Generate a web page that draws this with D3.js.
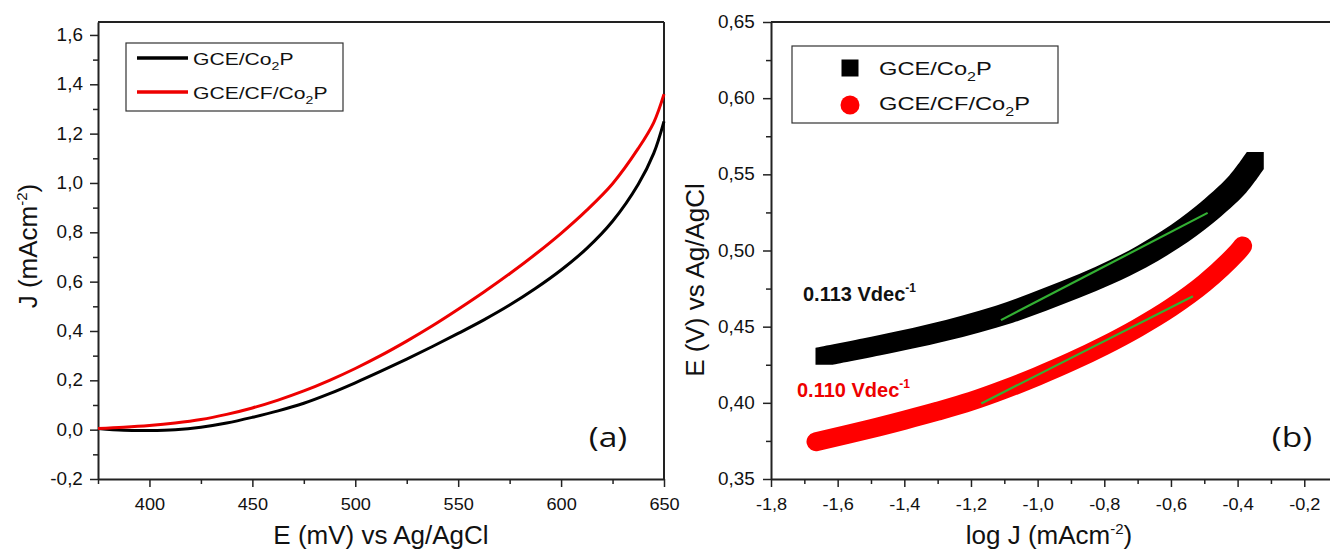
<!DOCTYPE html>
<html>
<head>
<meta charset="utf-8">
<script src="https://cdn.jsdelivr.net/npm/d3@7"></script>
<style>
  body { margin: 0; background: #fff; }
  svg { display: block; }
  text { font-family: "Liberation Sans", Arial, sans-serif; fill: #111; }
</style>
</head>
<body>
<script>
// ---- data ----
// (a) polarisation curves, J (mA cm-2) vs E (mV)
const potentialMv = [375, 387.5, 400, 412.5, 425, 437.5, 450, 462.5, 475, 487.5, 500, 512.5,
                     525, 537.5, 550, 562.5, 575, 587.5, 600, 612.5, 625, 637.5, 645, 650];
const jCo2P   = [0.005, -0.002, -0.003, 0.0, 0.01, 0.027, 0.05, 0.076, 0.107, 0.146, 0.19, 0.237,
                 0.286, 0.337, 0.39, 0.445, 0.505, 0.572, 0.647, 0.735, 0.845, 0.995, 1.12, 1.25];
const jCfCo2P = [0.005, 0.01, 0.017, 0.027, 0.041, 0.062, 0.088, 0.12, 0.157, 0.2, 0.248, 0.301,
                 0.359, 0.421, 0.488, 0.558, 0.632, 0.711, 0.796, 0.89, 0.997, 1.14, 1.245, 1.36];

// (b) Tafel plots, E (V) vs log J
const tafelLogJCo2P = [-1.641, -1.5, -1.4, -1.3, -1.2, -1.1, -1.0, -0.9, -0.8, -0.7, -0.6, -0.5, -0.4, -0.347];
const tafelECo2P    = [0.4305, 0.4366, 0.4412, 0.4462, 0.4518, 0.4582, 0.466, 0.4745, 0.4838, 0.4945,
                       0.5075, 0.5235, 0.5435, 0.559];
const tafelLogJCf   = [-1.665, -1.5, -1.4, -1.3, -1.2, -1.1, -1.0, -0.9, -0.8, -0.7, -0.6, -0.5, -0.4, -0.385];
const tafelECf      = [0.3745, 0.383, 0.3886, 0.3945, 0.401, 0.4088, 0.4175, 0.427, 0.4375, 0.4492,
                       0.4625, 0.4785, 0.499, 0.503];

// linear fits (green)
const fitLogJCo2P = [-1.11, -0.49];
const fitECo2P    = [0.4543, 0.5247];
const fitLogJCf   = [-1.169, -0.534];
const fitECf      = [0.3996, 0.470];

const seriesNames = ["GCE/CF/Co", "GCE/Co"];
const slopeLabels = ["0.113 Vdec", "0.110 Vdec"];
const seriesColors = ["#000000", "#ee0000"];

// ticks
const ticksE    = [400, 450, 500, 550, 600, 650];
const minorE    = [375, 425, 475, 525, 575, 625];
const ticksJ    = [-0.2, 0, 0.2, 0.4, 0.6, 0.8, 1.0, 1.2, 1.4, 1.6];
const minorJ    = [-0.1, 0.1, 0.3, 0.5, 0.7, 0.9, 1.1, 1.3, 1.5];
const ticksLogJ = [-1.8, -1.6, -1.4, -1.2, -1.0, -0.8, -0.6, -0.4, -0.2];
const minorLogJ = [-1.7, -1.5, -1.3, -1.1, -0.9, -0.7, -0.5, -0.3, -0.1];
const ticksV    = [0.35, 0.40, 0.45, 0.50, 0.55, 0.60, 0.65];
const minorV    = [0.375, 0.425, 0.475, 0.525, 0.575, 0.625];

// ---- layout ----
const W = 1330, H = 551;
const svg = d3.select("body").append("svg").attr("width", W).attr("height", H);
svg.append("rect").attr("width", W).attr("height", H).attr("fill", "#fff");

const comma = s => s.replace(".", ",").replace("\u2212", "-");
const fmt1 = d => comma(d3.format(".1f")(d));
const fmt2 = d => comma(d3.format(".2f")(d));

// text helper with horizontal stretch
function label(parent, x, y, opts) {
  const g = parent.append("g").attr("transform", `translate(${x},${y}) ${opts.rot ? "rotate(" + opts.rot + ")" : ""} scale(${opts.sx || 1},1)`);
  const t = g.append("text")
    .attr("text-anchor", opts.anchor || "start")
    .style("font-size", opts.size + "px");
  if (opts.weight) t.style("font-weight", opts.weight);
  if (opts.family) t.style("font-family", opts.family);
  if (opts.fill) t.style("fill", opts.fill);
  return t;
}

function drawAxes(x, y, xt, xm, yt, ym, xf, yf, yPad) {
  const [x0, x1] = x.range();
  const [y0, y1] = y.range();
  const gx = svg.append("g").attr("transform", `translate(0,${y0})`)
    .call(d3.axisBottom(x).tickValues(xt).tickSize(8).tickSizeOuter(0).tickPadding(11).tickFormat(xf));
  svg.append("g").attr("transform", `translate(0,${y0})`)
    .call(d3.axisBottom(x).tickValues(xm).tickSize(5).tickFormat(""))
    .select(".domain").remove();
  const gy = svg.append("g").attr("transform", `translate(${x0},0)`)
    .call(d3.axisLeft(y).tickValues(yt).tickSize(8).tickSizeOuter(0).tickPadding(yPad).tickFormat(yf));
  svg.append("g").attr("transform", `translate(${x0},0)`)
    .call(d3.axisLeft(y).tickValues(ym).tickSize(5).tickFormat(""))
    .select(".domain").remove();
  svg.selectAll(".domain").attr("stroke", "#222").attr("stroke-width", 2);
  svg.selectAll(".tick line").attr("stroke", "#222").attr("stroke-width", 1.5);
  gx.selectAll("text").style("font-size", "16.5px").attr("transform", "scale(1.1,1)")
    .style("font-family", "'Liberation Sans', Arial, sans-serif").attr("fill", "#111");
  gy.selectAll("text").style("font-size", "17.5px").attr("transform", "scale(1.08,1)")
    .style("font-family", "'Liberation Sans', Arial, sans-serif").attr("fill", "#111");
  // top border
  svg.append("line").attr("x1", x0).attr("x2", x1).attr("y1", y1).attr("y2", y1)
    .attr("stroke", "#222").attr("stroke-width", 2);
}

// ================= panel (a) =================
const xA = d3.scaleLinear().domain([375, 650]).range([98, 664]);
const yA = d3.scaleLinear().domain([-0.2, 1.6525]).range([479, 22]);
drawAxes(xA, yA, ticksE, minorE, ticksJ, minorJ, d3.format("d"), fmt1, 6);
svg.append("line").attr("x1", 664).attr("x2", 664).attr("y1", 22).attr("y2", 479)
  .attr("stroke", "#222").attr("stroke-width", 2);

const lineA = d3.line().x(d => xA(d[0])).y(d => yA(d[1])).curve(d3.curveCatmullRom.alpha(0.5));
svg.append("path").datum(potentialMv.map((e, i) => [e, jCo2P[i]]))
  .attr("d", lineA).attr("fill", "none").attr("stroke", seriesColors[0]).attr("stroke-width", 3);
svg.append("path").datum(potentialMv.map((e, i) => [e, jCfCo2P[i]]))
  .attr("d", lineA).attr("fill", "none").attr("stroke", seriesColors[1]).attr("stroke-width", 3);

// legend (a)
svg.append("rect").attr("x", 126).attr("y", 43).attr("width", 217).attr("height", 68)
  .attr("fill", "#fff").attr("stroke", "#333").attr("stroke-width", 1.2);
[[seriesNames[1], 58, seriesColors[0]], [seriesNames[0], 92, seriesColors[1]]].forEach(([name, yy, c]) => {
  svg.append("line").attr("x1", 137).attr("x2", 188).attr("y1", yy).attr("y2", yy)
    .attr("stroke", c).attr("stroke-width", 3.5);
  const t = label(svg, 193, yy + 6.5, { size: 16.5, sx: 1.28 });
  t.append("tspan").text(name);
  t.append("tspan").text("2").attr("dy", 5).style("font-size", "11px");
  t.append("tspan").text("P").attr("dy", -5);
});

// axis titles (a)
{
  const t = label(svg, 381, 544, { size: 26, anchor: "middle" });
  t.text("E (mV) vs Ag/AgCl");
  const ty = label(svg, 37, 246, { size: 26, anchor: "middle", rot: -90 });
  ty.append("tspan").text("J (mAcm");
  ty.append("tspan").text("-2").attr("dy", -10).style("font-size", "15px");
  ty.append("tspan").text(")").attr("dy", 10);
  label(svg, 608, 447, { size: 28, anchor: "middle", sx: 1.2, family: "'Open Sans', Lato, sans-serif" }).text("(a)");
}

// ================= panel (b) =================
const xB = d3.scaleLinear().domain([-1.8, -0.1]).range([771, 1337.6]);
const yB = d3.scaleLinear().domain([0.35, 0.65]).range([479, 22]);
drawAxes(xB, yB, ticksLogJ, minorLogJ, ticksV, minorV, fmt1, fmt2, 7);

// black square markers: band = curve swept by a square of half-size h
{
  const h = 8.5;
  const pts = tafelLogJCo2P.map((v, i) => [xB(v), yB(tafelECo2P[i])]);
  const edge = d3.line().curve(d3.curveCatmullRom.alpha(0.5));
  const top = edge(pts.map(([x, y]) => [x - h, y - h]));
  const bot = edge(pts.map(([x, y]) => [x + h, y + h]).reverse());
  const [xs, ys] = pts[0], [xe, ye] = pts[pts.length - 1];
  const d = `M${xs - h},${ys + h}L${top.slice(1)}L${xe + h},${ye - h}L${bot.slice(1)}Z`;
  svg.append("path").attr("d", d).attr("fill", seriesColors[0]);
}
// red circle markers: round-capped thick stroke
const lineB = d3.line().x(d => xB(d[0])).y(d => yB(d[1])).curve(d3.curveCatmullRom.alpha(0.5));
svg.append("path").datum(tafelLogJCf.map((v, i) => [v, tafelECf[i]]))
  .attr("d", lineB).attr("fill", "none").attr("stroke", "#f00")
  .attr("stroke-width", 19).attr("stroke-linecap", "round").attr("stroke-linejoin", "round");

// fits
const fitLine = d3.line().x(d => xB(d[0])).y(d => yB(d[1]));
[[fitLogJCo2P, fitECo2P], [fitLogJCf, fitECf]].forEach(([lx, ly]) => {
  svg.append("path").datum(lx.map((v, i) => [v, ly[i]]))
    .attr("d", fitLine).attr("fill", "none").attr("stroke", "#33b033").attr("stroke-width", 2.2);
});

// slope labels
[[slopeLabels[0], 803, 301, "#111"], [slopeLabels[1], 797, 397, "#ee0000"]].forEach(([s, x, y, c]) => {
  const t = label(svg, x, y, { size: 20, weight: "bold", fill: c });
  t.append("tspan").text(s);
  t.append("tspan").text("-1").attr("dy", -9).style("font-size", "12px");
});

// legend (b)
svg.append("rect").attr("x", 792).attr("y", 46).attr("width", 266).attr("height", 77)
  .attr("fill", "#fff").attr("stroke", "#333").attr("stroke-width", 1.2);
svg.append("rect").attr("x", 850 - 8.5).attr("y", 68 - 8.5).attr("width", 17).attr("height", 17).attr("fill", "#000");
svg.append("circle").attr("cx", 850).attr("cy", 105).attr("r", 9.5).attr("fill", "#f00");
[[seriesNames[1], 75], [seriesNames[0], 110]].forEach(([name, yy]) => {
  const t = label(svg, 879, yy, { size: 18.5, sx: 1.28 });
  t.append("tspan").text(name);
  t.append("tspan").text("2").attr("dy", 6).style("font-size", "12.5px");
  t.append("tspan").text("P").attr("dy", -6);
});

// axis titles (b)
{
  const t = label(svg, 1049, 544, { size: 26, anchor: "middle" });
  t.append("tspan").text("log J (mAcm");
  t.append("tspan").text("-2").attr("dy", -10).style("font-size", "15px");
  t.append("tspan").text(")").attr("dy", 10);
  label(svg, 704, 280, { size: 26, anchor: "middle", rot: -90 }).text("E (V) vs Ag/AgCl");
  label(svg, 1292, 447, { size: 28, anchor: "middle", sx: 1.2, family: "'Open Sans', Lato, sans-serif" }).text("(b)");
}
</script>
</body>
</html>
